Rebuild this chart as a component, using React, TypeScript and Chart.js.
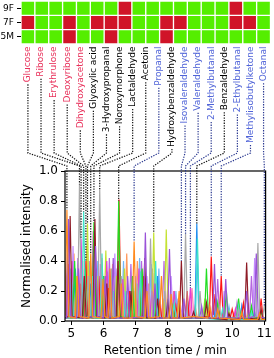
import React, { useEffect, useRef } from 'react';
import { Chart, registerables } from 'chart.js';

Chart.register(...registerables);

// ---------------- heat map data ----------------
const rowNames = ['9F', '7F', '5M'];
const row9F = [0, 0, 0, 0, 0, 0, 0, 1, 0, 0, 0, 0, 0, 0, 0, 1, 0, 0];
const row7F = [1, 0, 0, 1, 0, 1, 1, 1, 0, 0, 1, 1, 0, 0, 0, 1, 1, 0];
const row5M = [0, 0, 0, 1, 0, 0, 1, 0, 0, 0, 1, 0, 0, 0, 0, 0, 0, 0];

// ---------------- compound annotations ----------------
const compoundNames = [
  'Glucose', 'Ribose', 'Erythrulose', 'Deoxyribose', 'Dihydroxyacetone',
  'Glyoxylic acid', '3-Hydroxypropanal', 'Noroxymorphone', 'Lactaldehyde', 'Acetoin',
  'Propanal', 'Hydroxybenzaldehyde', 'Isovaleraldehyde', 'Valeraldehyde', '2-Methylbutanal',
  'Benzaldehyde', '2-Ethylbutanal', 'Methylisobutylketone', 'Octanal',
];
const compoundClass = ['r', 'r', 'r', 'r', 'r', 'k', 'k', 'k', 'k', 'k', 'b', 'k', 'b', 'b', 'b', 'k', 'b', 'b', 'b'];
const compoundTimes = [4.86, 5.25, 5.30, 5.38, 5.45, 5.50, 5.60, 5.70, 5.88, 6.47, 6.95, 7.56, 8.42, 8.55, 8.70, 8.90, 9.35, 9.66, 11.00];
const compoundHeights = [0.74, 0.91, 0.55, 0.73, 0.40, 0.65, 0.45, 0.66, 0.88, 0.80, 0.53, 0.59, 0.40, 0.58, 0.22, 0.65, 0.43, 0.30, 0.10];

const xTicks = [5, 6, 7, 8, 9, 10, 11];
const yTicks = [0, 0.2, 0.4, 0.6, 0.8, 1.0];

// ---------------- chromatogram traces (x, y pairs) ----------------
const orange = [4.80,0.04, 4.86,0.74, 4.92,0.03, 5.12,0.02, 5.18,0.30, 5.24,0.03, 5.54,0.02, 5.60,0.45, 5.66,0.03, 5.92,0.02, 5.98,0.28, 6.04,0.03, 6.14,0.02, 6.20,0.35, 6.26,0.02, 6.49,0.03, 6.55,0.25, 6.61,0.02, 6.89,0.02, 6.95,0.53, 7.01,0.03, 7.29,0.02, 7.35,0.20, 7.41,0.02, 7.74,0.03, 7.80,0.30, 7.86,0.02, 8.04,0.02, 8.10,0.18, 8.16,0.02, 8.29,0.02, 8.35,0.20, 8.41,0.02, 8.80,0.03, 9.24,0.02, 9.30,0.10, 9.36,0.02, 9.49,0.02, 9.55,0.08, 9.61,0.02, 10.24,0.01, 10.30,0.06, 10.36,0.01, 10.79,0.01, 10.85,0.05, 10.91,0.01, 11.04,0.01];
const purple = [4.80,0.02, 4.85,0.02, 4.91,0.68, 4.97,0.03, 5.16,0.02, 5.22,0.35, 5.28,0.02, 5.69,0.03, 5.75,0.50, 5.81,0.03, 5.99,0.02, 6.05,0.30, 6.11,0.02, 6.24,0.03, 6.30,0.42, 6.36,0.02, 6.69,0.02, 6.75,0.30, 6.81,0.02, 7.24,0.03, 7.30,0.59, 7.36,0.03, 7.54,0.02, 7.60,0.25, 7.66,0.02, 7.99,0.02, 8.05,0.48, 8.11,0.02, 8.44,0.02, 8.50,0.15, 8.56,0.02, 8.99,0.02, 9.05,0.10, 9.11,0.02, 9.39,0.02, 9.45,0.38, 9.51,0.02, 9.74,0.02, 9.80,0.28, 9.86,0.02, 10.39,0.02, 10.45,0.20, 10.51,0.02, 10.69,0.03, 10.75,0.45, 10.81,0.03, 11.04,0.02];
const darkred = [4.80,0.02, 4.90,0.03, 4.96,0.70, 5.02,0.03, 5.34,0.02, 5.40,0.30, 5.46,0.02, 5.67,0.03, 5.73,0.68, 5.79,0.03, 6.04,0.02, 6.10,0.25, 6.16,0.02, 6.39,0.02, 6.45,0.40, 6.51,0.02, 6.79,0.02, 6.85,0.20, 6.91,0.02, 7.22,0.02, 7.28,0.42, 7.34,0.02, 7.62,0.02, 7.68,0.15, 7.74,0.02, 7.94,0.02, 8.00,0.12, 8.06,0.02, 8.36,0.02, 8.42,0.40, 8.48,0.02, 8.74,0.02, 8.80,0.06, 8.86,0.02, 9.14,0.02, 9.20,0.12, 9.26,0.02, 9.84,0.01, 9.90,0.05, 9.96,0.01, 10.39,0.02, 10.45,0.39, 10.51,0.02, 10.84,0.01, 10.90,0.08, 10.96,0.01, 11.04,0.01];
const grey = [4.80,0.02, 5.19,0.02, 5.25,0.91, 5.31,0.03, 5.46,0.02, 5.52,0.30, 5.58,0.02, 5.82,0.03, 5.88,0.88, 5.94,0.03, 6.19,0.02, 6.25,0.35, 6.31,0.02, 6.49,0.02, 6.55,0.30, 6.61,0.02, 6.99,0.02, 7.05,0.25, 7.11,0.02, 7.40,0.03, 7.46,0.55, 7.52,0.03, 7.84,0.02, 7.90,0.20, 7.96,0.02, 8.49,0.02, 8.55,0.58, 8.61,0.03, 8.94,0.02, 9.00,0.20, 9.06,0.02, 9.54,0.02, 9.60,0.10, 9.66,0.02, 10.14,0.02, 10.20,0.08, 10.26,0.02, 10.74,0.03, 10.80,0.52, 10.86,0.03, 10.94,0.02, 11.00,0.10, 11.04,0.04];
const turquoise = [4.80,0.02, 4.94,0.02, 5.00,0.30, 5.06,0.02, 5.32,0.02, 5.38,0.73, 5.44,0.03, 5.59,0.02, 5.65,0.30, 5.71,0.02, 5.89,0.02, 5.95,0.45, 6.01,0.02, 6.24,0.02, 6.30,0.20, 6.36,0.02, 6.64,0.02, 6.70,0.20, 6.76,0.02, 7.09,0.02, 7.15,0.33, 7.21,0.02, 7.56,0.02, 7.62,0.40, 7.68,0.02, 8.14,0.02, 8.20,0.12, 8.26,0.02, 8.86,0.02, 8.92,0.55, 8.98,0.02, 9.64,0.01, 9.70,0.08, 9.76,0.01, 10.14,0.01, 10.20,0.10, 10.26,0.01, 10.54,0.01, 10.60,0.06, 10.66,0.01, 11.04,0.01];
const green = [4.80,0.02, 5.04,0.02, 5.10,0.40, 5.16,0.02, 5.36,0.02, 5.42,0.35, 5.48,0.02, 5.64,0.02, 5.70,0.66, 5.76,0.02, 5.94,0.02, 6.00,0.30, 6.06,0.02, 6.41,0.03, 6.47,0.80, 6.53,0.03, 6.84,0.02, 6.90,0.30, 6.96,0.02, 7.14,0.02, 7.20,0.35, 7.26,0.02, 7.59,0.02, 7.65,0.25, 7.71,0.02, 8.09,0.02, 8.15,0.10, 8.21,0.02, 9.14,0.02, 9.20,0.35, 9.26,0.02, 9.49,0.02, 9.55,0.12, 9.61,0.02, 9.76,0.02, 9.82,0.20, 9.88,0.02, 10.14,0.02, 10.20,0.15, 10.26,0.02, 10.54,0.02, 10.60,0.10, 10.66,0.02, 10.84,0.02, 10.90,0.06, 10.96,0.02, 11.04,0.02];
const red = [4.80,0.02, 4.84,0.02, 4.90,0.38, 4.96,0.02, 5.22,0.02, 5.28,0.25, 5.34,0.02, 5.39,0.02, 5.45,0.40, 5.51,0.02, 5.79,0.02, 5.85,0.30, 5.91,0.02, 6.09,0.02, 6.15,0.22, 6.21,0.02, 6.42,0.03, 6.48,0.81, 6.54,0.03, 6.74,0.02, 6.80,0.20, 6.86,0.02, 7.19,0.02, 7.25,0.30, 7.31,0.02, 7.69,0.02, 7.75,0.12, 7.81,0.02, 8.19,0.02, 8.25,0.10, 8.31,0.02, 8.54,0.02, 8.60,0.20, 8.66,0.02, 9.29,0.03, 9.35,0.43, 9.41,0.04, 9.47,0.18, 9.53,0.02, 9.60,0.02, 9.66,0.30, 9.72,0.02, 9.94,0.02, 10.00,0.08, 10.06,0.02, 10.29,0.02, 10.35,0.12, 10.41,0.02, 10.84,0.02, 10.90,0.15, 10.96,0.02, 11.04,0.02];
const magenta = [4.80,0.02, 4.96,0.02, 5.02,0.40, 5.08,0.02, 5.24,0.02, 5.30,0.55, 5.36,0.02, 5.62,0.02, 5.68,0.60, 5.74,0.02, 5.86,0.02, 5.92,0.30, 5.98,0.02, 6.04,0.02, 6.10,0.40, 6.16,0.02, 6.54,0.02, 6.60,0.28, 6.66,0.02, 7.04,0.02, 7.10,0.35, 7.16,0.02, 7.44,0.02, 7.50,0.20, 7.56,0.02, 8.14,0.02, 8.20,0.20, 8.26,0.02, 8.64,0.02, 8.70,0.22, 8.76,0.02, 9.24,0.02, 9.30,0.10, 9.36,0.02, 10.04,0.01, 10.10,0.08, 10.16,0.01, 10.49,0.01, 10.55,0.06, 10.61,0.01, 11.04,0.01];
const yellowgreen = [4.80,0.02, 5.09,0.02, 5.15,0.30, 5.21,0.02, 5.44,0.02, 5.50,0.65, 5.56,0.02, 5.74,0.02, 5.80,0.30, 5.86,0.02, 6.01,0.02, 6.07,0.47, 6.13,0.02, 6.34,0.02, 6.40,0.30, 6.46,0.02, 6.59,0.02, 6.65,0.35, 6.71,0.02, 6.94,0.02, 7.00,0.25, 7.06,0.02, 7.50,0.02, 7.56,0.59, 7.62,0.02, 7.89,0.02, 7.95,0.61, 8.01,0.02, 8.29,0.02, 8.35,0.12, 8.41,0.02, 9.09,0.02, 9.15,0.15, 9.21,0.02, 9.84,0.01, 9.90,0.06, 9.96,0.01, 10.44,0.01, 10.50,0.05, 10.56,0.01, 11.04,0.01];
const blue = [4.80,0.02, 5.06,0.02, 5.12,0.35, 5.18,0.02, 5.54,0.02, 5.60,0.25, 5.66,0.02, 6.14,0.02, 6.20,0.30, 6.26,0.02, 6.84,0.02, 6.90,0.22, 6.96,0.02, 7.62,0.02, 7.68,0.30, 7.74,0.02, 7.94,0.02, 8.00,0.15, 8.06,0.02, 8.84,0.02, 8.90,0.65, 8.96,0.02, 9.44,0.02, 9.50,0.15, 9.56,0.02, 10.24,0.01, 10.30,0.10, 10.36,0.01, 10.64,0.01, 10.70,0.06, 10.76,0.01, 11.04,0.01];
const violet = [4.80,0.02, 4.99,0.02, 5.05,0.50, 5.11,0.02, 5.29,0.02, 5.35,0.30, 5.41,0.02, 5.72,0.02, 5.78,0.35, 5.84,0.02, 6.29,0.02, 6.35,0.45, 6.41,0.02, 6.64,0.02, 6.70,0.20, 6.76,0.02, 6.94,0.02, 7.00,0.30, 7.06,0.02, 7.29,0.02, 7.35,0.30, 7.41,0.02, 8.04,0.02, 8.10,0.30, 8.16,0.02, 8.39,0.02, 8.45,0.10, 8.51,0.02, 9.69,0.02, 9.75,0.20, 9.81,0.02, 10.24,0.02, 10.30,0.10, 10.36,0.02, 10.64,0.02, 10.70,0.42, 10.76,0.02, 11.04,0.02];
const pink = [4.80,0.02, 4.89,0.02, 4.95,0.30, 5.01,0.02, 5.29,0.02, 5.35,0.40, 5.41,0.02, 5.56,0.02, 5.62,0.25, 5.68,0.02, 5.99,0.02, 6.05,0.30, 6.11,0.02, 6.44,0.02, 6.50,0.25, 6.56,0.02, 6.89,0.02, 6.95,0.20, 7.01,0.02, 7.34,0.02, 7.40,0.25, 7.46,0.02, 7.79,0.02, 7.85,0.15, 7.91,0.02, 8.69,0.02, 8.75,0.22, 8.81,0.02, 9.19,0.02, 9.25,0.10, 9.31,0.02, 10.44,0.01, 10.50,0.10, 10.56,0.01, 10.79,0.01, 10.85,0.08, 10.91,0.01, 11.04,0.01];
const skyblue = [4.80,0.02, 4.92,0.02, 4.98,0.35, 5.04,0.02, 5.26,0.02, 5.32,0.42, 5.38,0.02, 5.52,0.02, 5.58,0.38, 5.64,0.02, 5.76,0.02, 5.82,0.40, 5.88,0.02, 6.06,0.02, 6.12,0.33, 6.18,0.02, 6.32,0.02, 6.38,0.30, 6.44,0.02, 6.56,0.02, 6.62,0.40, 6.68,0.02, 7.06,0.02, 7.12,0.42, 7.18,0.02, 7.42,0.02, 7.48,0.38, 7.54,0.02, 7.66,0.02, 7.72,0.35, 7.78,0.02, 8.19,0.02, 8.25,0.20, 8.31,0.02, 8.56,0.02, 8.62,0.12, 8.68,0.02, 9.04,0.02, 9.10,0.08, 9.16,0.02, 9.84,0.02, 9.90,0.10, 9.96,0.02, 10.56,0.01, 10.62,0.08, 10.68,0.01, 11.04,0.01];
const salmon = [4.80,0.02, 5.02,0.02, 5.08,0.45, 5.14,0.02, 5.42,0.02, 5.48,0.50, 5.54,0.02, 5.89,0.02, 5.95,0.42, 6.01,0.02, 6.22,0.02, 6.28,0.38, 6.34,0.02, 6.66,0.02, 6.72,0.45, 6.78,0.02, 6.99,0.02, 7.05,0.40, 7.11,0.02, 7.16,0.02, 7.22,0.28, 7.28,0.02, 7.52,0.02, 7.58,0.32, 7.64,0.02, 7.94,0.02, 8.00,0.25, 8.06,0.02, 8.12,0.02, 8.18,0.20, 8.24,0.02, 8.79,0.02, 8.85,0.10, 8.91,0.02, 9.34,0.02, 9.40,0.12, 9.46,0.02, 9.99,0.01, 10.05,0.05, 10.11,0.01, 11.04,0.01];
const orchid = [4.80,0.03, 4.82,0.03, 4.88,0.45, 4.94,0.02, 5.14,0.02, 5.20,0.42, 5.26,0.02, 5.49,0.02, 5.55,0.40, 5.61,0.02, 5.84,0.02, 5.90,0.38, 5.96,0.02, 6.12,0.02, 6.18,0.42, 6.24,0.02, 6.36,0.02, 6.42,0.35, 6.48,0.02, 6.79,0.02, 6.85,0.38, 6.91,0.02, 7.12,0.02, 7.18,0.40, 7.24,0.02, 7.46,0.02, 7.52,0.35, 7.58,0.02, 7.82,0.02, 7.88,0.40, 7.94,0.02, 8.22,0.02, 8.28,0.15, 8.34,0.02, 8.52,0.02, 8.58,0.10, 8.64,0.02, 9.49,0.02, 9.55,0.28, 9.61,0.02, 10.09,0.02, 10.15,0.12, 10.21,0.02, 10.54,0.02, 10.60,0.30, 10.66,0.02, 11.04,0.02];

const traces: [number[], string][] = [
  [orange, '#ff8a1e'],
  [purple, '#9a52d8'],
  [darkred, '#8e1b26'],
  [grey, '#a8a8a8'],
  [turquoise, '#3fe3c8'],
  [green, '#22dd22'],
  [red, '#ff1414'],
  [magenta, '#e23fd2'],
  [yellowgreen, '#c4e232'],
  [blue, '#1f8ef0'],
  [violet, '#c48cff'],
  [pink, '#ff78b4'],
  [skyblue, '#74b8f8'],
  [salmon, '#ff9a5c'],
  [orchid, '#b566e0'],
];

// ---------------- style constants ----------------
const FONT = 'DejaVu Sans';
const GREEN = '#55ee00';
const REDCELL = '#d01428';
const LABEL_RED = '#e8305a';
const LABEL_BLUE = '#5064d8';
const LINE_BLUE = '#2a3890';
const HEAT_LEFT = 21;
const HEAT_RIGHT = 270.5;
const W = 274;
const HEAT_H = 45;
const MAIN_H = 313;

function toPoints(flat: number[]) {
  const pts: { x: number; y: number }[] = [];
  for (let i = 0; i < flat.length; i += 2) pts.push({ x: flat[i], y: flat[i + 1] });
  return pts;
}

export default function App() {
  const heatRef = useRef<HTMLCanvasElement | null>(null);
  const mainRef = useRef<HTMLCanvasElement | null>(null);

  useEffect(() => {
    document.body.style.margin = '0';
    Chart.defaults.font.family = FONT;
    Chart.defaults.color = '#000';

    const rows = [row5M, row7F, row9F];
    const heat = new Chart(heatRef.current as HTMLCanvasElement, {
      type: 'bar',
      data: {
        labels: row9F.map((_, i) => String(i + 1)),
        datasets: rows.map((row, k) => ({
          label: rowNames[2 - k],
          data: row.map(() => 1),
          backgroundColor: row.map((v) => (v ? REDCELL : GREEN)),
          borderColor: '#ffffff',
          borderWidth: 1,
          borderSkipped: false,
          barPercentage: 1,
          categoryPercentage: 1,
        })),
      },
      options: {
        animation: false,
        responsive: false,
        events: [],
        layout: { padding: { left: 0, right: W - HEAT_RIGHT, top: 1, bottom: 1 } },
        plugins: { legend: { display: false }, tooltip: { enabled: false } },
        scales: {
          x: { stacked: true, display: false },
          y: {
            stacked: true,
            min: 0,
            max: 3,
            afterFit: (s: any) => { s.width = HEAT_LEFT; s.paddingTop = 0; s.paddingBottom = 0; },
            afterBuildTicks: (s: any) => { s.ticks = [0.5, 1.5, 2.5].map((v) => ({ value: v })); },
            ticks: {
              callback: (v: any) => rowNames[2 - Math.floor(Number(v))],
              color: '#000',
              font: { size: 9, family: FONT },
              padding: 3,
            },
            grid: { drawOnChartArea: false, tickLength: 4, color: '#000' },
            border: { display: false },
          },
        },
      } as any,
    });

    const n = compoundNames.length;
    const pitch = (HEAT_RIGHT - HEAT_LEFT) / row9F.length;
    const firstC = HEAT_LEFT + pitch / 2;
    const lastC = HEAT_RIGHT - pitch / 2;

    const annot = {
      id: 'annot',
      afterDraw(chart: any) {
        const { ctx, chartArea } = chart;
        const xs = chart.scales.x;
        const ys = chart.scales.y;
        ctx.save();
        ctx.strokeStyle = '#000';
        ctx.lineWidth = 1.2;
        ctx.setLineDash([]);
        ctx.strokeRect(chartArea.left, chartArea.top, chartArea.right - chartArea.left, chartArea.bottom - chartArea.top);
        ctx.font = `9px "${FONT}"`;
        const topY = 1.5;
        const bend1 = 108;
        const bend2 = 121;
        for (let i = 0; i < n; i++) {
          const lx = firstC + ((lastC - firstC) * i) / (n - 1);
          const cls = compoundClass[i];
          const col = cls === 'r' ? LABEL_RED : cls === 'b' ? LABEL_BLUE : '#000';
          ctx.save();
          ctx.translate(lx, topY);
          ctx.rotate(-Math.PI / 2);
          ctx.textAlign = 'right';
          ctx.textBaseline = 'middle';
          ctx.fillStyle = col;
          ctx.fillText(compoundNames[i], 0, 0);
          ctx.restore();
          const w = ctx.measureText(compoundNames[i]).width;
          const tx = xs.getPixelForValue(compoundTimes[i]);
          const ty = ys.getPixelForValue(compoundHeights[i]);
          ctx.beginPath();
          ctx.setLineDash([1.3, 1.3]);
          ctx.lineWidth = 1.2;
          ctx.strokeStyle = cls === 'b' ? LINE_BLUE : '#111';
          ctx.moveTo(lx, topY + w + 2);
          ctx.lineTo(lx, bend1);
          ctx.lineTo(tx, bend2);
          ctx.lineTo(tx, ty);
          ctx.stroke();
        }
        ctx.restore();
      },
    };

    const main = new Chart(mainRef.current as HTMLCanvasElement, {
      type: 'line',
      data: {
        datasets: traces.map(([flat, color]) => ({
          data: toPoints(flat),
          borderColor: color,
          borderWidth: 1.2,
          pointRadius: 0,
          tension: 0,
          fill: false,
        })),
      },
      options: {
        animation: false,
        responsive: false,
        events: [],
        parsing: false,
        layout: { padding: { left: 16, right: 7, top: 126, bottom: 0 } },
        plugins: { legend: { display: false }, tooltip: { enabled: false } },
        scales: {
          x: {
            type: 'linear',
            min: 4.8,
            max: 11.04,
            afterBuildTicks: (s: any) => { s.ticks = xTicks.map((v) => ({ value: v })); },
            afterFit: (s: any) => { s.height = 37; },
            ticks: { color: '#000', font: { size: 12, family: FONT }, padding: 2, maxRotation: 0, autoSkip: false },
            grid: { drawOnChartArea: false, tickLength: 4, color: '#000' },
            border: { display: false },
            title: { display: true, text: 'Retention time / min', color: '#000', font: { size: 12, family: FONT }, padding: { top: 0, bottom: 0 } },
          },
          y: {
            type: 'linear',
            min: 0,
            max: 1,
            afterBuildTicks: (s: any) => { s.ticks = yTicks.map((v) => ({ value: v })); },
            afterFit: (s: any) => { s.width = 49; },
            ticks: { color: '#000', font: { size: 12, family: FONT }, padding: 3, callback: (v: any) => Number(v).toFixed(1) },
            grid: { drawOnChartArea: false, tickLength: 4, color: '#000' },
            border: { display: false },
            title: { display: true, text: 'Normalised intensity', color: '#000', font: { size: 12, family: FONT }, padding: { top: 4, bottom: 0 } },
          },
        },
      } as any,
      plugins: [annot],
    });

    return () => {
      heat.destroy();
      main.destroy();
    };
  }, []);

  return (
    <div style={{ width: W }}>
      <canvas ref={heatRef} width={W} height={HEAT_H} style={{ display: 'block' }} />
      <canvas ref={mainRef} width={W} height={MAIN_H} style={{ display: 'block' }} />
    </div>
  );
}
